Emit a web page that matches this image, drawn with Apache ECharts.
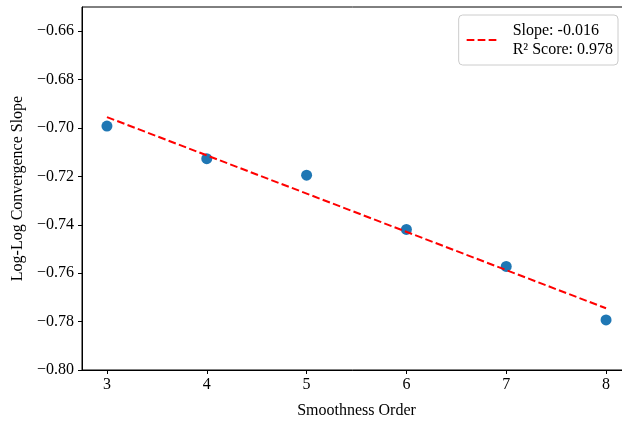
<!DOCTYPE html>
<html>
  <head>
    <meta charset="utf-8">
    <script src="https://cdn.jsdelivr.net/npm/echarts@6/dist/echarts.min.js"></script>
    <style>
      body { margin: 0; padding: 0; background: #fff; }
      #chart { width: 622px; height: 421px; }
    </style>
  </head>
  <body>
    <div id="chart"></div>
    <script>
      // smoothness order vs. measured log-log convergence slope
      const orders = [3, 4, 5, 6, 7, 8];
      const slopes = [-0.6992, -0.7127, -0.7195, -0.7419, -0.7572, -0.7793];

      // linear fit at its ends
      const fitX = [3, 8];
      const fitY = [-0.6955, -0.7745];

      const xTicks = [3, 4, 5, 6, 7, 8];
      const yTicks = [-0.80, -0.78, -0.76, -0.74, -0.72, -0.70, -0.68, -0.66];

      const fitName = 'Slope: -0.016\nR² Score: 0.978';
      const font = '"Liberation Serif", "Times New Roman", serif';

      const chart = echarts.init(document.getElementById('chart'));

      chart.setOption({
        animation: false,
        textStyle: { fontFamily: font },
        grid: {
          left: 82, top: 7, right: -9, bottom: 51,
          outerBoundsMode: 'none',
          containLabel: false,
          show: true, borderColor: '#000', borderWidth: 1
        },
        legend: {
          data: [{ name: fitName, itemStyle: { opacity: 0 } }],
          right: 4, top: 15,
          backgroundColor: '#fff',
          borderColor: '#ccc', borderWidth: 1, borderRadius: 4,
          padding: [6, 5, 6, 7],
          itemWidth: 32, itemHeight: 10,
          textStyle: { fontFamily: font, fontSize: 16, color: '#000', lineHeight: 19, padding: [0, 0, 0, 9] }
        },
        xAxis: {
          type: 'value',
          min: 2.75, max: 8.25,
          name: 'Smoothness Order',
          nameLocation: 'middle', nameGap: 33,
          nameTextStyle: { fontFamily: font, fontSize: 16, color: '#000' },
          splitLine: { show: false },
          axisLine: { lineStyle: { color: '#000' } },
          axisTick: { customValues: xTicks, length: 4, lineStyle: { color: '#000' } },
          axisLabel: { customValues: xTicks, fontSize: 16, color: '#000', margin: 7 }
        },
        yAxis: {
          type: 'value',
          min: -0.80, max: -0.65,
          name: 'Log-Log Convergence Slope',
          nameLocation: 'middle', nameGap: 56,
          nameTextStyle: { fontFamily: font, fontSize: 16, color: '#000' },
          splitLine: { show: false },
          axisLine: { show: true, lineStyle: { color: '#000' } },
          axisTick: { show: true, customValues: yTicks, length: 4, lineStyle: { color: '#000' } },
          axisLabel: {
            customValues: yTicks, fontSize: 16, color: '#000', margin: 8,
            formatter: v => '\u2212' + Math.abs(v).toFixed(2)
          }
        },
        series: [
          {
            type: 'scatter',
            data: orders.map((x, i) => [x, slopes[i]]),
            symbolSize: 11,
            itemStyle: { color: '#1f77b4', opacity: 1 },
            z: 2
          },
          {
            name: fitName,
            type: 'line',
            data: fitX.map((x, i) => [x, fitY[i]]),
            symbol: 'none',
            lineStyle: { color: '#ff0000', width: 2, type: [7.7, 3.3] },
            itemStyle: { color: '#ff0000' },
            z: 3
          }
        ]
      });
    </script>
  </body>
</html>
